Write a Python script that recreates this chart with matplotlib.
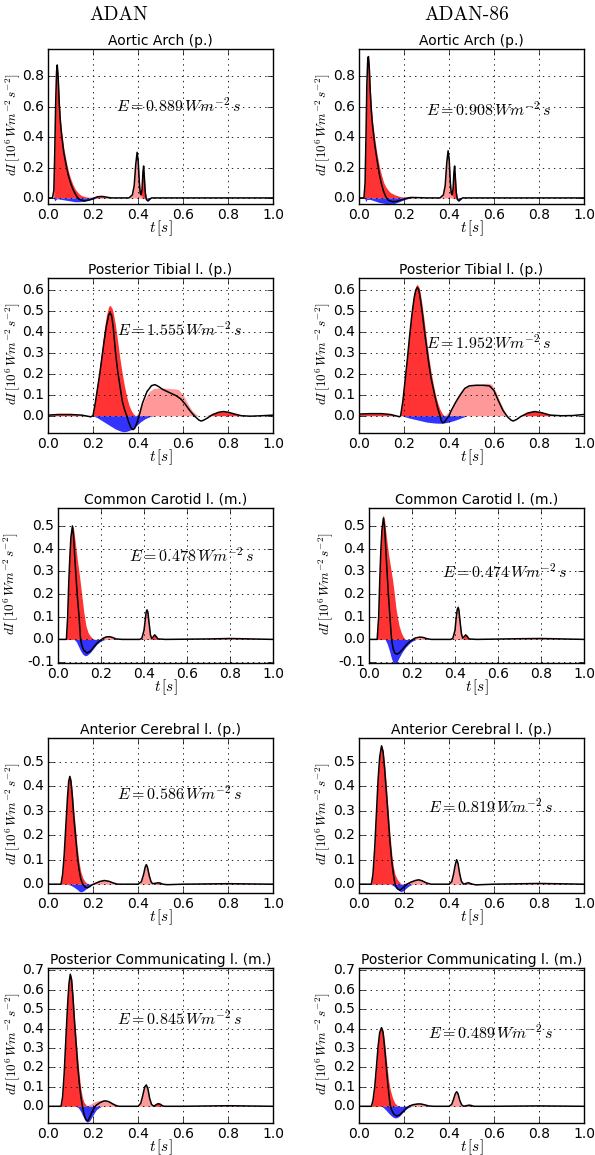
import matplotlib
matplotlib.use("Agg")
import matplotlib.pyplot as plt

# ---------------- data ----------------
TITLES = ["Aortic Arch (p.)", "Posterior Tibial l. (p.)", "Common Carotid l. (m.)",
          "Anterior Cerebral l. (p.)", "Posterior Communicating l. (m.)"]
COLUMNS = ["ADAN", "ADAN-86"]
E_ADAN = [0.889, 1.555, 0.478, 0.586, 0.845]
E_ADAN86 = [0.908, 1.952, 0.474, 0.819, 0.489]
X_TICKS = [0.0, 0.2, 0.4, 0.6, 0.8, 1.0]
Y_TICKS = [[0.0, 0.2, 0.4, 0.6, 0.8],
           [0.0, 0.1, 0.2, 0.3, 0.4, 0.5, 0.6],
           [-0.1, 0.0, 0.1, 0.2, 0.3, 0.4, 0.5],
           [0.0, 0.1, 0.2, 0.3, 0.4, 0.5],
           [0.0, 0.1, 0.2, 0.3, 0.4, 0.5, 0.6, 0.7]]
Y_LIMS = [(-0.04, 0.98), (-0.082, 0.655), (-0.104, 0.579), (-0.036, 0.597), (-0.086, 0.712)]

# Each series: list of (t [s], dI [1e6 W m^-2 s^-2])
# --- Aortic Arch, ADAN
AA_ADAN_NET = [(0, 0), (0.02, 0), (0.026, 0.05), (0.03, 0.3), (0.034, 0.62), (0.038, 0.83), (0.041, 0.875),
               (0.045, 0.8), (0.05, 0.62), (0.055, 0.5), (0.06, 0.42), (0.07, 0.3), (0.08, 0.22), (0.09, 0.15),
               (0.1, 0.1), (0.11, 0.06), (0.12, 0.03), (0.13, 0.005), (0.14, -0.01), (0.16, -0.02), (0.18, -0.015),
               (0.2, -0.005), (0.22, 0.008), (0.24, 0.01), (0.26, 0.005), (0.28, 0.0), (0.36, 0.0), (0.375, 0.02),
               (0.383, 0.08), (0.39, 0.22), (0.396, 0.30), (0.401, 0.24), (0.406, 0.1), (0.41, 0.03), (0.414, 0.02),
               (0.418, 0.06), (0.422, 0.17), (0.425, 0.21), (0.428, 0.14), (0.432, 0.04), (0.437, -0.01),
               (0.444, -0.02), (0.452, -0.01), (0.46, 0.0), (1.0, 0.0)]
AA_ADAN_FC = [(0.025, 0), (0.03, 0.3), (0.035, 0.7), (0.04, 0.88), (0.045, 0.82), (0.05, 0.65), (0.055, 0.53),
              (0.06, 0.45), (0.07, 0.33), (0.08, 0.25), (0.09, 0.18), (0.1, 0.13), (0.11, 0.09), (0.12, 0.06),
              (0.13, 0.04), (0.14, 0.025), (0.15, 0.015), (0.165, 0.008), (0.18, 0.004), (0.2, 0.006),
              (0.22, 0.01), (0.24, 0.01), (0.26, 0.005), (0.28, 0), (0.41, 0), (0.416, 0.06), (0.42, 0.15),
              (0.424, 0.21), (0.428, 0.15), (0.432, 0.05), (0.436, 0)]
AA_ADAN_FE = [(0.36, 0), (0.375, 0.02), (0.383, 0.08), (0.39, 0.22), (0.396, 0.30), (0.401, 0.25),
              (0.406, 0.12), (0.41, 0.05), (0.415, 0.02), (0.42, 0)]
AA_ADAN_B = [(0.025, 0), (0.03, -0.02), (0.035, -0.01), (0.04, -0.005), (0.06, -0.01), (0.08, -0.015),
             (0.1, -0.02), (0.12, -0.025), (0.14, -0.025), (0.16, -0.022), (0.18, -0.015), (0.2, -0.008),
             (0.22, 0), (0.435, 0), (0.444, -0.02), (0.455, 0)]
# --- Aortic Arch, ADAN-86
AA_A86_NET = [(0, 0), (0.022, 0), (0.027, 0.1), (0.031, 0.4), (0.035, 0.75), (0.039, 0.92), (0.042, 0.93),
              (0.046, 0.85), (0.05, 0.7), (0.055, 0.57), (0.06, 0.48), (0.07, 0.35), (0.08, 0.25), (0.09, 0.16),
              (0.1, 0.09), (0.11, 0.04), (0.12, 0.005), (0.13, -0.015), (0.15, -0.025), (0.17, -0.022),
              (0.19, -0.012), (0.21, -0.003), (0.23, 0.003), (0.26, 0.002), (0.3, 0), (0.36, 0), (0.375, 0.02),
              (0.383, 0.08), (0.39, 0.23), (0.396, 0.31), (0.401, 0.25), (0.406, 0.1), (0.41, 0.03),
              (0.414, 0.02), (0.418, 0.06), (0.422, 0.17), (0.425, 0.21), (0.428, 0.14), (0.432, 0.04),
              (0.437, -0.01), (0.444, -0.02), (0.452, -0.01), (0.46, 0), (1.0, 0)]
AA_A86_FC = [(0.022, 0), (0.027, 0.1), (0.031, 0.4), (0.035, 0.76), (0.039, 0.93), (0.042, 0.94),
             (0.046, 0.87), (0.05, 0.73), (0.055, 0.6), (0.06, 0.51), (0.07, 0.39), (0.08, 0.29), (0.09, 0.21),
             (0.1, 0.15), (0.11, 0.1), (0.12, 0.07), (0.13, 0.05), (0.14, 0.035), (0.16, 0.02), (0.18, 0.01),
             (0.2, 0.005), (0.22, 0.008), (0.24, 0.005), (0.26, 0), (0.41, 0), (0.416, 0.06), (0.42, 0.15),
             (0.424, 0.21), (0.428, 0.15), (0.432, 0.05), (0.436, 0)]
AA_A86_FE = [(0.36, 0), (0.375, 0.02), (0.383, 0.08), (0.39, 0.23), (0.396, 0.31), (0.401, 0.26),
             (0.406, 0.12), (0.41, 0.05), (0.415, 0.02), (0.42, 0)]
AA_A86_B = [(0.025, 0), (0.03, -0.025), (0.035, -0.01), (0.05, -0.01), (0.07, -0.02), (0.09, -0.03),
            (0.11, -0.035), (0.13, -0.04), (0.15, -0.04), (0.17, -0.03), (0.19, -0.018), (0.21, -0.008),
            (0.23, 0), (0.435, 0), (0.444, -0.02), (0.455, 0)]
# --- Posterior Tibial, ADAN
PT_ADAN_NET = [(0, 0.003), (0.05, 0.006), (0.1, 0.006), (0.15, 0.003), (0.18, -0.003), (0.19, -0.005),
               (0.2, 0.0), (0.21, 0.06), (0.22, 0.13), (0.23, 0.2), (0.24, 0.28), (0.25, 0.36), (0.26, 0.43),
               (0.27, 0.48), (0.276, 0.49), (0.283, 0.475), (0.29, 0.42), (0.3, 0.3), (0.31, 0.21), (0.32, 0.14),
               (0.33, 0.07), (0.34, 0.03), (0.35, 0.0), (0.36, -0.035), (0.37, -0.06), (0.378, -0.066),
               (0.385, -0.06), (0.395, -0.035), (0.405, 0.0), (0.42, 0.06), (0.44, 0.115), (0.46, 0.143),
               (0.475, 0.148), (0.49, 0.14), (0.51, 0.125), (0.53, 0.115), (0.55, 0.105), (0.57, 0.095),
               (0.59, 0.08), (0.61, 0.055), (0.63, 0.025), (0.65, 0.0), (0.67, -0.02), (0.68, -0.025),
               (0.69, -0.022), (0.71, -0.01), (0.73, 0.005), (0.76, 0.017), (0.78, 0.02), (0.8, 0.017),
               (0.83, 0.008), (0.86, 0.0), (0.9, -0.002), (0.95, 0.0), (1.0, 0.003)]
PT_ADAN_FC = [(0, 0.003), (0.05, 0.006), (0.1, 0.006), (0.15, 0.003), (0.19, 0), (0.2, 0), (0.21, 0.07),
              (0.22, 0.15), (0.23, 0.23), (0.24, 0.32), (0.25, 0.41), (0.26, 0.48), (0.27, 0.52), (0.276, 0.525),
              (0.285, 0.51), (0.29, 0.49), (0.3, 0.43), (0.31, 0.35), (0.32, 0.27), (0.33, 0.2), (0.34, 0.14),
              (0.35, 0.09), (0.36, 0.05), (0.37, 0.025), (0.38, 0.008), (0.39, 0), (0.7, 0), (0.73, 0.008),
              (0.76, 0.018), (0.78, 0.02), (0.8, 0.018), (0.83, 0.01), (0.86, 0)]
PT_ADAN_FE = [(0.39, 0), (0.41, 0.03), (0.43, 0.08), (0.45, 0.115), (0.47, 0.13), (0.5, 0.133),
              (0.53, 0.13), (0.56, 0.128), (0.58, 0.125), (0.6, 0.1), (0.62, 0.06), (0.64, 0.025),
              (0.66, 0.005), (0.67, 0)]
PT_ADAN_B = [(0.2, 0), (0.22, -0.01), (0.25, -0.03), (0.28, -0.05), (0.3, -0.063), (0.32, -0.072),
             (0.335, -0.076), (0.35, -0.074), (0.37, -0.066), (0.39, -0.05), (0.41, -0.03), (0.43, -0.015),
             (0.45, -0.005), (0.47, 0)]
# --- Posterior Tibial, ADAN-86
PT_A86_NET = [(0, 0.008), (0.05, 0.01), (0.1, 0.01), (0.14, 0.006), (0.17, -0.002), (0.18, -0.005),
              (0.185, 0.0), (0.195, 0.07), (0.205, 0.17), (0.215, 0.27), (0.225, 0.38), (0.235, 0.48),
              (0.245, 0.56), (0.252, 0.597), (0.259, 0.61), (0.265, 0.6), (0.27, 0.575), (0.28, 0.5),
              (0.29, 0.41), (0.3, 0.33), (0.31, 0.25), (0.32, 0.18), (0.33, 0.13), (0.34, 0.08), (0.35, 0.035),
              (0.36, 0.0), (0.366, -0.025), (0.372, -0.033), (0.38, -0.03), (0.39, -0.015), (0.4, 0.0),
              (0.41, 0.025), (0.43, 0.065), (0.45, 0.1), (0.47, 0.13), (0.49, 0.142), (0.52, 0.145),
              (0.55, 0.145), (0.58, 0.142), (0.6, 0.12), (0.62, 0.07), (0.64, 0.025), (0.66, -0.005),
              (0.675, -0.02), (0.685, -0.025), (0.7, -0.018), (0.72, -0.003), (0.75, 0.013), (0.78, 0.02),
              (0.81, 0.015), (0.85, 0.003), (0.9, 0.0), (0.95, 0.001), (1.0, 0.006)]
PT_A86_FC = [(0, 0.008), (0.05, 0.01), (0.1, 0.01), (0.14, 0.006), (0.18, 0), (0.185, 0), (0.195, 0.08),
             (0.205, 0.18), (0.215, 0.29), (0.225, 0.4), (0.235, 0.5), (0.245, 0.58), (0.252, 0.615),
             (0.258, 0.625), (0.265, 0.615), (0.27, 0.6), (0.28, 0.53), (0.29, 0.45), (0.3, 0.36), (0.31, 0.28),
             (0.32, 0.21), (0.33, 0.15), (0.34, 0.1), (0.35, 0.06), (0.36, 0.03), (0.37, 0.01), (0.38, 0),
             (0.72, 0), (0.75, 0.015), (0.78, 0.022), (0.81, 0.017), (0.85, 0.005), (0.87, 0)]
PT_A86_FE = [(0.38, 0), (0.4, 0.02), (0.42, 0.05), (0.44, 0.09), (0.46, 0.12), (0.48, 0.138), (0.51, 0.145),
             (0.54, 0.148), (0.57, 0.155), (0.59, 0.15), (0.61, 0.11), (0.63, 0.06), (0.65, 0.015), (0.66, 0)]
PT_A86_B = [(0.19, 0), (0.22, -0.01), (0.26, -0.02), (0.3, -0.03), (0.34, -0.035), (0.37, -0.036),
            (0.4, -0.03), (0.43, -0.02), (0.46, -0.008), (0.48, 0)]
# --- Common Carotid, ADAN
CC_ADAN_NET = [(0, 0), (0.039, 0), (0.045, 0.1), (0.05, 0.25), (0.055, 0.36), (0.06, 0.45), (0.067, 0.5),
               (0.072, 0.46), (0.077, 0.38), (0.082, 0.3), (0.09, 0.19), (0.098, 0.1), (0.105, 0.0),
               (0.112, -0.03), (0.12, -0.048), (0.135, -0.06), (0.15, -0.052), (0.165, -0.035), (0.18, -0.018),
               (0.195, -0.005), (0.21, 0.005), (0.225, 0.011), (0.24, 0.012), (0.255, 0.008), (0.27, 0.002),
               (0.3, 0), (0.38, 0), (0.39, 0.005), (0.4, 0.04), (0.405, 0.08), (0.41, 0.12), (0.414, 0.13),
               (0.418, 0.12), (0.424, 0.07), (0.43, 0.02), (0.436, 0.003), (0.443, 0.012), (0.45, 0.02),
               (0.457, 0.012), (0.465, 0.002), (0.5, 0), (0.7, 0.002), (0.8, 0.004), (0.9, 0.002), (1.0, 0)]
CC_ADAN_FC = [(0.038, 0), (0.045, 0.1), (0.05, 0.26), (0.055, 0.38), (0.06, 0.47), (0.066, 0.505),
              (0.072, 0.49), (0.08, 0.43), (0.09, 0.35), (0.1, 0.28), (0.11, 0.2), (0.12, 0.12), (0.13, 0.06),
              (0.14, 0.03), (0.15, 0.015), (0.16, 0.005), (0.17, 0), (0.435, 0), (0.443, 0.012), (0.45, 0.02),
              (0.457, 0.012), (0.465, 0)]
CC_ADAN_FE = [(0.2, 0), (0.22, 0.01), (0.24, 0.013), (0.26, 0.008), (0.28, 0), (0.38, 0), (0.39, 0.005),
              (0.4, 0.04), (0.405, 0.085), (0.41, 0.125), (0.414, 0.135), (0.418, 0.125), (0.424, 0.07),
              (0.43, 0.02), (0.436, 0), (0.6, 0), (0.7, 0.003), (0.8, 0.005), (0.9, 0.003), (1.0, 0)]
CC_ADAN_B = [(0.075, 0), (0.085, -0.01), (0.095, -0.03), (0.105, -0.05), (0.115, -0.065), (0.125, -0.072),
             (0.135, -0.07), (0.15, -0.058), (0.165, -0.04), (0.18, -0.022), (0.195, -0.01), (0.21, -0.003),
             (0.22, 0)]
# --- Common Carotid, ADAN-86
CC_A86_NET = [(0, 0), (0.038, 0), (0.045, 0.1), (0.05, 0.26), (0.055, 0.39), (0.06, 0.48), (0.067, 0.535),
              (0.072, 0.5), (0.077, 0.42), (0.082, 0.33), (0.09, 0.2), (0.098, 0.09), (0.105, 0.0),
              (0.112, -0.04), (0.12, -0.06), (0.13, -0.065), (0.14, -0.06), (0.155, -0.045), (0.17, -0.028),
              (0.185, -0.013), (0.2, -0.002), (0.215, 0.006), (0.235, 0.01), (0.25, 0.009), (0.27, 0.003),
              (0.29, 0), (0.38, 0), (0.39, 0.005), (0.4, 0.04), (0.405, 0.09), (0.41, 0.13), (0.414, 0.14),
              (0.418, 0.13), (0.424, 0.075), (0.43, 0.025), (0.436, 0.005), (0.443, 0.013), (0.45, 0.02),
              (0.457, 0.013), (0.465, 0.002), (0.5, 0), (0.7, 0.003), (0.8, 0.004), (0.9, 0.002), (1.0, 0)]
CC_A86_FC = [(0.037, 0), (0.045, 0.1), (0.05, 0.27), (0.055, 0.4), (0.06, 0.5), (0.066, 0.55),
             (0.072, 0.53), (0.08, 0.46), (0.09, 0.38), (0.1, 0.32), (0.11, 0.26), (0.118, 0.2), (0.125, 0.14),
             (0.132, 0.1), (0.14, 0.06), (0.15, 0.03), (0.16, 0.01), (0.17, 0), (0.435, 0), (0.443, 0.014),
             (0.45, 0.022), (0.457, 0.014), (0.465, 0)]
CC_A86_FE = [(0.2, 0), (0.22, 0.006), (0.24, 0.01), (0.26, 0.008), (0.28, 0.002), (0.29, 0), (0.38, 0),
             (0.39, 0.006), (0.4, 0.05), (0.405, 0.1), (0.41, 0.145), (0.414, 0.155), (0.418, 0.14),
             (0.424, 0.08), (0.43, 0.025), (0.436, 0), (0.6, 0), (0.7, 0.003), (0.8, 0.004), (0.9, 0.002),
             (1.0, 0)]
CC_A86_B = [(0.075, 0), (0.085, -0.02), (0.095, -0.05), (0.105, -0.085), (0.113, -0.105), (0.12, -0.11),
            (0.13, -0.1), (0.14, -0.08), (0.155, -0.055), (0.17, -0.035), (0.185, -0.02), (0.2, -0.008),
            (0.22, 0)]
# --- Anterior Cerebral, ADAN
AC_ADAN_NET = [(0, 0), (0.058, 0), (0.065, 0.04), (0.072, 0.12), (0.08, 0.25), (0.087, 0.36), (0.092, 0.42),
               (0.097, 0.44), (0.102, 0.42), (0.108, 0.36), (0.115, 0.27), (0.123, 0.19), (0.13, 0.12),
               (0.138, 0.06), (0.146, 0.02), (0.155, 0.0), (0.165, -0.012), (0.175, -0.015), (0.185, -0.01),
               (0.195, -0.003), (0.21, 0.003), (0.23, 0.011), (0.25, 0.015), (0.27, 0.012), (0.29, 0.005),
               (0.31, 0.0), (0.4, 0), (0.415, 0.01), (0.425, 0.04), (0.432, 0.07), (0.437, 0.08),
               (0.442, 0.07), (0.45, 0.035), (0.458, 0.01), (0.465, 0.002), (0.48, 0.004), (0.49, 0.006),
               (0.5, 0.004), (0.51, 0), (0.53, -0.002), (0.6, 0), (0.8, 0.002), (1.0, 0)]
AC_ADAN_FC = [(0.058, 0), (0.065, 0.04), (0.072, 0.13), (0.08, 0.26), (0.087, 0.38), (0.092, 0.43),
              (0.097, 0.445), (0.102, 0.43), (0.108, 0.38), (0.115, 0.3), (0.123, 0.22), (0.13, 0.15),
              (0.138, 0.09), (0.146, 0.05), (0.155, 0.025), (0.165, 0.01), (0.175, 0.003), (0.185, 0),
              (0.47, 0), (0.48, 0.004), (0.49, 0.006), (0.5, 0.004), (0.51, 0)]
AC_ADAN_FE = [(0.18, 0), (0.2, 0.005), (0.22, 0.012), (0.25, 0.016), (0.28, 0.012), (0.3, 0.004), (0.31, 0),
              (0.405, 0), (0.415, 0.01), (0.425, 0.04), (0.432, 0.07), (0.437, 0.08), (0.442, 0.07),
              (0.45, 0.035), (0.458, 0.01), (0.466, 0), (0.55, 0), (0.65, 0.003), (0.8, 0.004), (0.95, 0.002),
              (1.0, 0)]
AC_ADAN_B = [(0.085, 0), (0.1, -0.004), (0.115, -0.012), (0.13, -0.022), (0.14, -0.03), (0.15, -0.031),
             (0.16, -0.026), (0.17, -0.018), (0.18, -0.01), (0.19, -0.004), (0.2, 0)]
# --- Anterior Cerebral, ADAN-86
AC_A86_NET = [(0, 0), (0.055, 0), (0.062, 0.04), (0.07, 0.15), (0.078, 0.3), (0.085, 0.43), (0.092, 0.52),
              (0.1, 0.565), (0.107, 0.54), (0.114, 0.47), (0.122, 0.37), (0.13, 0.27), (0.138, 0.17),
              (0.146, 0.09), (0.153, 0.04), (0.16, 0.0), (0.17, -0.018), (0.182, -0.025), (0.195, -0.015),
              (0.21, -0.002), (0.23, 0.008), (0.25, 0.015), (0.265, 0.018), (0.28, 0.014), (0.3, 0.005),
              (0.32, 0.0), (0.4, 0), (0.412, 0.01), (0.42, 0.04), (0.428, 0.08), (0.434, 0.1), (0.44, 0.085),
              (0.447, 0.045), (0.455, 0.012), (0.465, 0.0), (0.478, 0.004), (0.486, 0.006), (0.495, 0.003),
              (0.505, 0), (0.52, -0.003), (0.54, -0.002), (0.6, 0), (0.8, 0.003), (1.0, 0)]
AC_A86_FC = [(0.055, 0), (0.062, 0.04), (0.07, 0.15), (0.078, 0.31), (0.085, 0.44), (0.092, 0.53),
             (0.1, 0.57), (0.107, 0.55), (0.114, 0.49), (0.122, 0.4), (0.13, 0.3), (0.138, 0.2), (0.146, 0.12),
             (0.153, 0.07), (0.16, 0.04), (0.17, 0.02), (0.18, 0.008), (0.19, 0), (0.47, 0), (0.478, 0.004),
             (0.486, 0.006), (0.495, 0.003), (0.505, 0)]
AC_A86_FE = [(0.19, 0), (0.21, 0.006), (0.23, 0.013), (0.25, 0.018), (0.27, 0.02), (0.29, 0.012),
             (0.31, 0.004), (0.32, 0), (0.4, 0), (0.412, 0.01), (0.42, 0.04), (0.428, 0.08), (0.434, 0.1),
             (0.44, 0.085), (0.447, 0.045), (0.455, 0.012), (0.465, 0), (0.6, 0), (0.7, 0.003), (0.8, 0.005),
             (0.9, 0.003), (1.0, 0)]
AC_A86_B = [(0.14, 0), (0.155, -0.008), (0.165, -0.016), (0.175, -0.024), (0.185, -0.03), (0.195, -0.028),
            (0.205, -0.02), (0.215, -0.012), (0.225, -0.005), (0.24, 0)]
# --- Posterior Communicating, ADAN
PC_ADAN_NET = [(0, 0), (0.058, 0), (0.065, 0.05), (0.072, 0.17), (0.08, 0.36), (0.087, 0.52), (0.093, 0.63),
               (0.099, 0.68), (0.105, 0.65), (0.111, 0.56), (0.118, 0.43), (0.125, 0.32), (0.132, 0.21),
               (0.139, 0.12), (0.146, 0.05), (0.153, 0.0), (0.16, -0.04), (0.167, -0.065), (0.173, -0.075),
               (0.18, -0.07), (0.188, -0.05), (0.196, -0.028), (0.205, -0.008), (0.215, 0.006), (0.23, 0.018),
               (0.245, 0.026), (0.256, 0.028), (0.27, 0.024), (0.285, 0.014), (0.3, 0.005), (0.315, 0.0),
               (0.4, 0), (0.412, 0.015), (0.42, 0.05), (0.43, 0.1), (0.437, 0.11), (0.444, 0.09), (0.452, 0.04),
               (0.46, 0.01), (0.47, 0.0), (0.48, 0.008), (0.49, 0.014), (0.5, 0.01), (0.51, 0.002), (0.52, 0),
               (0.6, 0), (0.8, 0.003), (1.0, 0)]
PC_ADAN_FC = [(0.058, 0), (0.065, 0.05), (0.072, 0.17), (0.08, 0.37), (0.087, 0.53), (0.093, 0.64),
              (0.099, 0.685), (0.105, 0.66), (0.111, 0.58), (0.118, 0.46), (0.125, 0.35), (0.132, 0.25),
              (0.139, 0.16), (0.146, 0.09), (0.153, 0.045), (0.16, 0.02), (0.17, 0.006), (0.18, 0), (0.47, 0),
              (0.48, 0.01), (0.49, 0.017), (0.5, 0.012), (0.51, 0.003), (0.52, 0)]
PC_ADAN_FE = [(0.17, 0), (0.19, 0.012), (0.21, 0.025), (0.23, 0.031), (0.25, 0.032), (0.27, 0.027),
              (0.29, 0.016), (0.31, 0.005), (0.32, 0), (0.4, 0), (0.412, 0.015), (0.42, 0.05), (0.43, 0.1),
              (0.437, 0.11), (0.444, 0.09), (0.452, 0.04), (0.46, 0.01), (0.47, 0), (0.6, 0), (0.8, 0.004),
              (1.0, 0)]
PC_ADAN_B = [(0.125, 0), (0.135, -0.008), (0.145, -0.025), (0.155, -0.05), (0.165, -0.072), (0.175, -0.082),
             (0.185, -0.075), (0.195, -0.055), (0.205, -0.035), (0.215, -0.018), (0.228, -0.006), (0.24, 0)]
# --- Posterior Communicating, ADAN-86
PC_A86_NET = [(0, 0), (0.055, 0), (0.062, 0.03), (0.07, 0.1), (0.078, 0.21), (0.085, 0.31), (0.092, 0.38),
              (0.1, 0.405), (0.107, 0.38), (0.114, 0.3), (0.12, 0.22), (0.126, 0.14), (0.132, 0.07),
              (0.138, 0.01), (0.145, -0.02), (0.155, -0.04), (0.167, -0.05), (0.18, -0.045), (0.195, -0.028),
              (0.21, -0.01), (0.225, 0.002), (0.24, 0.008), (0.26, 0.012), (0.275, 0.012), (0.29, 0.008),
              (0.31, 0.002), (0.33, 0), (0.4, 0), (0.412, 0.01), (0.42, 0.035), (0.428, 0.065), (0.434, 0.075),
              (0.44, 0.065), (0.448, 0.03), (0.456, 0.008), (0.465, 0), (0.48, 0.004), (0.49, 0.006),
              (0.5, 0.004), (0.51, 0), (0.6, 0), (0.8, 0.002), (1.0, 0)]
PC_A86_FC = [(0.055, 0), (0.062, 0.03), (0.07, 0.1), (0.078, 0.21), (0.085, 0.32), (0.092, 0.39),
             (0.1, 0.41), (0.107, 0.39), (0.114, 0.33), (0.12, 0.26), (0.126, 0.19), (0.132, 0.13), (0.14, 0.08),
             (0.15, 0.04), (0.16, 0.015), (0.17, 0.005), (0.18, 0), (0.47, 0), (0.48, 0.004), (0.49, 0.007),
             (0.5, 0.004), (0.51, 0)]
PC_A86_FE = [(0.2, 0), (0.22, 0.006), (0.24, 0.01), (0.26, 0.014), (0.28, 0.013), (0.3, 0.008), (0.32, 0.002),
             (0.33, 0), (0.4, 0), (0.412, 0.01), (0.42, 0.035), (0.428, 0.065), (0.434, 0.075), (0.44, 0.065),
             (0.448, 0.03), (0.456, 0.008), (0.465, 0), (0.6, 0), (0.8, 0.003), (1.0, 0)]
PC_A86_B = [(0.1, 0), (0.11, -0.008), (0.12, -0.02), (0.13, -0.033), (0.14, -0.045), (0.15, -0.055),
            (0.16, -0.06), (0.17, -0.058), (0.18, -0.05), (0.19, -0.038), (0.2, -0.025), (0.21, -0.014),
            (0.22, -0.006), (0.235, 0)]

PANELS = [
    [(AA_ADAN_NET, AA_ADAN_FC, AA_ADAN_FE, AA_ADAN_B), (AA_A86_NET, AA_A86_FC, AA_A86_FE, AA_A86_B)],
    [(PT_ADAN_NET, PT_ADAN_FC, PT_ADAN_FE, PT_ADAN_B), (PT_A86_NET, PT_A86_FC, PT_A86_FE, PT_A86_B)],
    [(CC_ADAN_NET, CC_ADAN_FC, CC_ADAN_FE, CC_ADAN_B), (CC_A86_NET, CC_A86_FC, CC_A86_FE, CC_A86_B)],
    [(AC_ADAN_NET, AC_ADAN_FC, AC_ADAN_FE, AC_ADAN_B), (AC_A86_NET, AC_A86_FC, AC_A86_FE, AC_A86_B)],
    [(PC_ADAN_NET, PC_ADAN_FC, PC_ADAN_FE, PC_ADAN_B), (PC_A86_NET, PC_A86_FC, PC_A86_FE, PC_A86_B)],
]
ENERGIES = [E_ADAN, E_ADAN86]

# ---------------- layout (pixels) ----------------
W, H = 595, 1155
ROW_TOP = [49, 278, 508, 738, 968]
AX_H = 155
COL_X = [[48, 48, 58, 48, 48], [359, 359, 369, 359, 359]]
AX_RIGHT = [273, 584]
YLABEL_X = [[13, 13, 11, 13, 13], [323, 323, 326, 323, 323]]
E_POS = [[(0.30, 0.61), (0.305, 0.41), (0.33, 0.37), (0.305, 0.37), (0.305, 0.45)],
         [(0.30, 0.58), (0.30, 0.35), (0.34, 0.30), (0.305, 0.318), (0.305, 0.38)]]
HEADER_X = [119, 467]

plt.style.use('classic')
plt.rcParams.update({
    'figure.facecolor': 'white',
    'savefig.facecolor': 'white',
    'font.size': 10,
    'mathtext.fontset': 'cm',
    'axes.linewidth': 1.0,
    'axes.unicode_minus': False,
})

fig = plt.figure(figsize=(W / 100, H / 100), dpi=100)

RED = (1.0, 0.2, 0.2)
PINK = (1.0, 0.6, 0.6)
BLUE = (0.2, 0.2, 1.0)


def xy(series):
    return [p[0] for p in series], [p[1] for p in series]


for c in range(2):
    fig.text(HEADER_X[c] / W, 1 - 15 / H, COLUMNS[c], ha='center', va='center',
             fontsize=14, family='cmr10')
    for r in range(5):
        x0 = COL_X[c][r]
        ax = fig.add_axes([x0 / W, 1 - (ROW_TOP[r] + AX_H) / H, (AX_RIGHT[c] - x0) / W, AX_H / H])
        net, fc, fe, bw = PANELS[r][c]
        t, y = xy(fc)
        ax.fill_between(t, 0, y, color=RED, linewidth=0, zorder=2)
        t, y = xy(fe)
        ax.fill_between(t, 0, y, color=PINK, linewidth=0, zorder=2)
        t, y = xy(bw)
        ax.fill_between(t, 0, y, color=BLUE, linewidth=0, zorder=2)
        t, y = xy(net)
        ax.plot(t, y, color='k', linewidth=1.1, zorder=3)
        ax.set_xlim(0, 1)
        ax.set_ylim(*Y_LIMS[r])
        ax.set_xticks(X_TICKS)
        ax.set_yticks(Y_TICKS[r])
        ax.grid(True, linestyle=':', color='k', linewidth=0.6)
        ax.set_axisbelow(False)
        ax.tick_params(labelsize=10, pad=3)
        ax.set_title(TITLES[r], fontsize=10, pad=3)
        ax.set_xlabel(r'$t\,[s]$', fontsize=11, labelpad=-3)
        fig.text(YLABEL_X[c][r] / W, 1 - (ROW_TOP[r] + AX_H / 2 - 2) / H,
                 r'$dI\,[10^6\,Wm^{-2}\,s^{-2}]$', rotation=90, ha='center', va='center', fontsize=9.5)
        ex, ey = E_POS[c][r]
        ax.text(ex, ey, r'$E = %.3f\,W m^{-2}\,s$' % ENERGIES[c][r], fontsize=11.5,
                ha='left', va='center', zorder=4)

fig.savefig('out.png', dpi=100)
